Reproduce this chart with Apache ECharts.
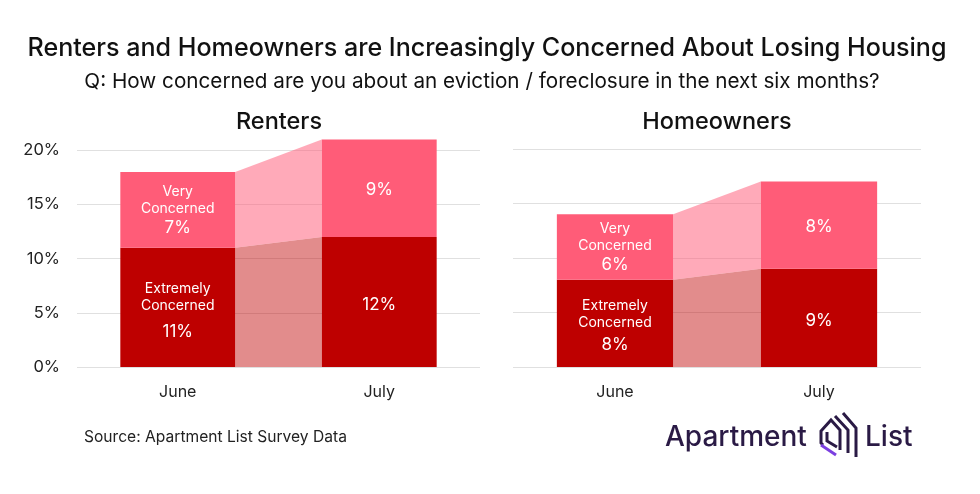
<!DOCTYPE html>
<html>
<head>
<meta charset="utf-8">
<style>html,body{margin:0;padding:0;background:#fff}#chart{width:980px;height:494px}</style>
<script src="https://cdn.jsdelivr.net/npm/echarts@6/dist/echarts.min.js"></script>
</head>
<body>
<div id="chart"></div>
<script>
var months = ['June', 'July'];
var rentersExtremely = [11, 12];
var rentersVery = [7, 9];
var homeownersExtremely = [8, 9];
var homeownersVery = [6, 8];
var yTicks = [0, 5, 10, 15, 20];
var extremelyName = ['Extremely', 'Concerned'];
var veryName = ['Very', 'Concerned'];

var FONT = 'Inter';
var DARK = '#be0000';
var LIGHT = '#ff5c78';
var BAR_SHARE = 0.57;

//label inside the bar, only June carries the series name
function barLabel(nameLines, gap){
	return {
		show: true,
		position: 'inside',
		color: '#fff',
		fontFamily: FONT,
		formatter: function(p){
			var pct = '{pct|' + p.value + '%}';
			if(p.dataIndex == 0){
				return nameLines.map(function(s){ return '{name|' + s + '}'; }).join('\n') + '\n' + pct;
			}
			return pct;
		},
		rich: {
			name: {color: '#fff', fontFamily: FONT, fontSize: 14, lineHeight: 17},
			pct: {color: '#fff', fontFamily: FONT, fontSize: 17, lineHeight: gap}
		}
	};
}

//bar values with their own label nudge, June and July differ
function barData(values, dyJune, dyJuly){
	return values.map(function(v, i){
		return {value: v, label: {offset: [0, i == 0 ? dyJune : dyJuly]}};
	});
}

//shaded band between the two bars
function bandSeries(idx, low, high, color){
	return {
		type: 'custom',
		xAxisIndex: idx,
		yAxisIndex: idx,
		z: 1,
		silent: true,
		data: [[low[0], high[0], low[1], high[1]]],
		renderItem: function(params, api){
			var half = api.size([1, 0])[0] * BAR_SHARE / 2;
			var a = api.coord([0, api.value(0)]);
			var b = api.coord([0, api.value(1)]);
			var c = api.coord([1, api.value(2)]);
			var d = api.coord([1, api.value(3)]);
			return {
				type: 'polygon',
				shape: {points: [
					[a[0] + half, a[1]],
					[b[0] + half, b[1]],
					[d[0] - half, d[1]],
					[c[0] - half, c[1]]
				]},
				style: {fill: color}
			};
		}
	};
}

function panelSeries(idx, extremely, very, gap, dyDark){
	var zero = extremely.map(function(){ return 0; });
	var total = extremely.map(function(v, i){ return v + very[i]; });
	return [
		bandSeries(idx, zero, extremely, 'rgba(190,0,0,0.45)'),
		bandSeries(idx, extremely, total, 'rgba(255,92,120,0.52)'),
		{type: 'bar', xAxisIndex: idx, yAxisIndex: idx, stack: 's' + idx, barWidth: (BAR_SHARE * 100) + '%', z: 2,
			itemStyle: {color: DARK}, label: barLabel(extremelyName, gap), data: barData(extremely, dyDark, 2.5)},
		{type: 'bar', xAxisIndex: idx, yAxisIndex: idx, stack: 's' + idx, barWidth: (BAR_SHARE * 100) + '%', z: 2,
			itemStyle: {color: LIGHT}, label: barLabel(veryName, 22), data: barData(very, 1, 2)}
	];
}

function xAxis(idx){
	return {
		type: 'category',
		gridIndex: idx,
		data: months,
		axisLine: {show: false},
		axisTick: {show: false},
		axisLabel: {color: '#222', fontFamily: FONT, fontSize: 16, margin: 17}
	};
}

function yAxis(idx, showLabel){
	return {
		type: 'value',
		gridIndex: idx,
		min: yTicks[0],
		max: 21,
		interval: yTicks[1] - yTicks[0],
		axisLine: {show: false},
		axisTick: {show: false},
		splitLine: {show: true, showMaxLine: false, lineStyle: {color: '#e0e0e0', width: 1}},
		axisLabel: {show: showLabel, showMaxLabel: false, color: '#222', fontFamily: FONT, fontSize: 16.5, margin: 17, padding: [4, 0, 0, 0], formatter: '{value}%'}
	};
}

var option = {
	animation: false,
	backgroundColor: '#fff',
	title: [
		{text: 'Renters and Homeowners are Increasingly Concerned About Losing Housing', left: 487, top: 36, padding: 0, textAlign: 'center',
			textStyle: {fontFamily: FONT, fontSize: 25.1, fontWeight: 500, color: '#111'}},
		{text: 'Q: How concerned are you about an eviction / foreclosure in the next six months?', left: 482, top: 71, padding: 0, textAlign: 'center',
			textStyle: {fontFamily: FONT, fontSize: 20.7, fontWeight: 'normal', color: '#111'}},
		{text: 'Renters', left: 279, top: 110, padding: 0, textAlign: 'center',
			textStyle: {fontFamily: FONT, fontSize: 23.5, fontWeight: 500, color: '#111'}},
		{text: 'Homeowners', left: 717, top: 110, padding: 0, textAlign: 'center',
			textStyle: {fontFamily: FONT, fontSize: 23.5, fontWeight: 500, color: '#111'}},
		{text: 'Source: Apartment List Survey Data', left: 84, top: 429, padding: 0,
			textStyle: {fontFamily: FONT, fontSize: 15.6, fontWeight: 'normal', color: '#222'}},
		{text: 'Apartment', left: 665, top: 424, padding: 0,
			textStyle: {fontFamily: FONT, fontSize: 28, fontWeight: 500, color: '#2a1a45'}},
		{text: 'List', left: 865, top: 424, padding: 0,
			textStyle: {fontFamily: FONT, fontSize: 28, fontWeight: 500, color: '#2a1a45'}}
	],
	grid: [
		{left: 77, width: 403, top: 139.5, height: 227.5},
		{left: 513, width: 408, top: 138, height: 229}
	],
	xAxis: [xAxis(0), xAxis(1)],
	yAxis: [yAxis(0, true), yAxis(1, false)],
	series: panelSeries(0, rentersExtremely, rentersVery, 35, 7.5).concat(panelSeries(1, homeownersExtremely, homeownersVery, 27, 4.5)),
	//logo mark
	graphic: [
		{type: 'polyline', shape: {points: [[823, 445], [821, 443], [821, 431], [831, 420], [840, 430], [840, 450]]}, style: {stroke: '#2a1a45', lineWidth: 3, fill: null}},
		{type: 'polyline', shape: {points: [[827, 432], [827, 441], [837, 447]]}, style: {stroke: '#2a1a45', lineWidth: 3, fill: null}},
		{type: 'polyline', shape: {points: [[821, 445], [836, 455]]}, style: {stroke: '#7b3fe0', lineWidth: 3, fill: null}},
		{type: 'polyline', shape: {points: [[835, 416], [848, 430], [848, 453]]}, style: {stroke: '#2a1a45', lineWidth: 3, fill: null}},
		{type: 'polyline', shape: {points: [[843, 413], [856, 428], [856, 457]]}, style: {stroke: '#2a1a45', lineWidth: 3, fill: null}}
	]
};

echarts.init(document.getElementById('chart')).setOption(option);
</script>
</body>
</html>
